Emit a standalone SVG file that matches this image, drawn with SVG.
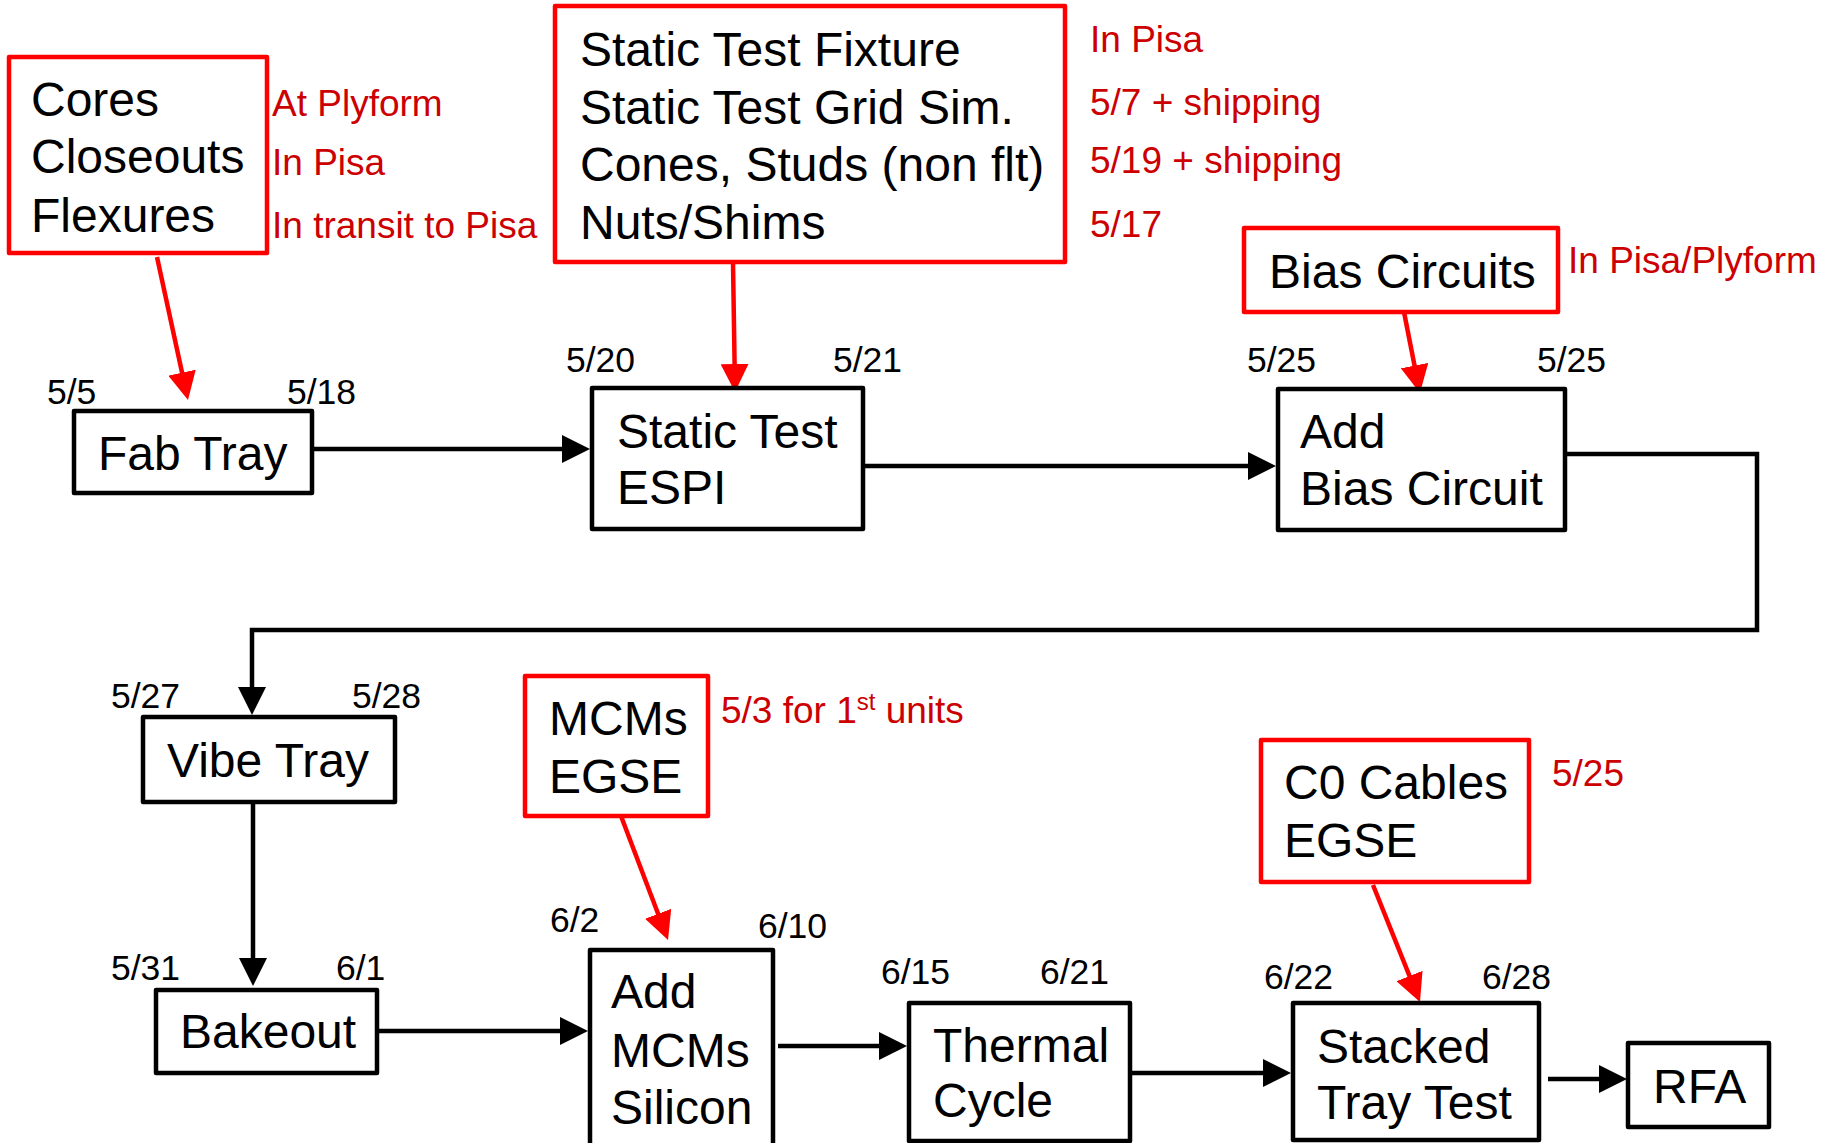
<svg xmlns="http://www.w3.org/2000/svg" width="1831" height="1143" viewBox="0 0 1831 1143">
<defs>
<style>
.bx{fill:#fff;stroke:#000;stroke-width:4.5;stroke-linejoin:round}
.rb{fill:#fff;stroke:#ff0000;stroke-width:4.5;stroke-linejoin:round}
.t{font-family:"Liberation Sans",Arial,sans-serif;font-size:48px;fill:#000}
.d{font-family:"Liberation Sans",Arial,sans-serif;font-size:35.5px;fill:#000}
.r{font-family:"Liberation Sans",Arial,sans-serif;font-size:37px;fill:#cc0000}
.k{fill:none;stroke:#000;stroke-width:4.5}
.kr{fill:none;stroke:#ff0000;stroke-width:4.5}
</style>
<marker id="ak" markerUnits="userSpaceOnUse" markerWidth="28" markerHeight="28" refX="20" refY="14" orient="auto"><path d="M0,0 L28,14 L0,28 z" fill="#000"/></marker>
<marker id="ar" markerUnits="userSpaceOnUse" markerWidth="28" markerHeight="28" refX="20" refY="14" orient="auto"><path d="M0,0 L28,14 L0,28 z" fill="#ff0000"/></marker>
</defs>
<rect width="1831" height="1143" fill="#fff"/>

<g id="connectors">
<line class="kr" x1="157" y1="257" x2="186.3" y2="392.2" marker-end="url(#ar)"/>
<line class="kr" x1="733" y1="262" x2="734.9" y2="384" marker-end="url(#ar)"/>
<line class="kr" x1="1404" y1="312" x2="1418.4" y2="385.2" marker-end="url(#ar)"/>
<line class="kr" x1="621" y1="816" x2="665.2" y2="932.5" marker-end="url(#ar)"/>
<line class="kr" x1="1373" y1="885" x2="1417" y2="994.6" marker-end="url(#ar)"/>
<line class="k" x1="312" y1="449" x2="582" y2="449" marker-end="url(#ak)"/>
<line class="k" x1="860" y1="466" x2="1268" y2="466" marker-end="url(#ak)"/>
<polyline class="k" points="1560,454 1757,454 1757,630 252,630 252,707" marker-end="url(#ak)"/>
<line class="k" x1="253" y1="802" x2="253" y2="978" marker-end="url(#ak)"/>
<line class="k" x1="377" y1="1031" x2="580" y2="1031" marker-end="url(#ak)"/>
<line class="k" x1="778" y1="1046" x2="899" y2="1046" marker-end="url(#ak)"/>
<line class="k" x1="1130" y1="1073" x2="1283" y2="1073" marker-end="url(#ak)"/>
<line class="k" x1="1548" y1="1079" x2="1619" y2="1079" marker-end="url(#ak)"/>
</g>

<g id="cores">
<rect class="rb" x="9" y="57" width="258" height="196"/>
<text class="t" x="31" y="116">Cores</text>
<text class="t" x="31" y="173">Closeouts</text>
<text class="t" x="31" y="232">Flexures</text>
<text class="r" x="272" y="116">At Plyform</text>
<text class="r" x="272" y="175">In Pisa</text>
<text class="r" x="272" y="238">In transit to Pisa</text>
</g>

<g id="fixture">
<rect class="rb" x="555" y="6" width="510" height="256"/>
<text class="t" x="580" y="66">Static Test Fixture</text>
<text class="t" x="580" y="124">Static Test Grid Sim.</text>
<text class="t" x="580" y="181">Cones, Studs (non flt)</text>
<text class="t" x="580" y="239">Nuts/Shims</text>
<text class="r" x="1090" y="52">In Pisa</text>
<text class="r" x="1090" y="115">5/7 + shipping</text>
<text class="r" x="1090" y="173">5/19 + shipping</text>
<text class="r" x="1090" y="237">5/17</text>
</g>

<g id="biascircuits">
<rect class="rb" x="1244" y="228" width="314" height="84"/>
<text class="t" x="1269" y="288">Bias Circuits</text>
<text class="r" x="1568" y="273">In Pisa/Plyform</text>
</g>

<g id="fabtray">
<rect class="bx" x="74" y="411" width="238" height="82"/>
<text class="t" x="98" y="470">Fab Tray</text>
<text class="d" x="47" y="404">5/5</text>
<text class="d" x="287" y="404">5/18</text>
</g>

<g id="statictest">
<rect class="bx" x="592" y="388" width="271" height="141"/>
<text class="t" x="617" y="448">Static Test</text>
<text class="t" x="617" y="504">ESPI</text>
<text class="d" x="566" y="372">5/20</text>
<text class="d" x="833" y="372">5/21</text>
</g>

<g id="addbias">
<rect class="bx" x="1278" y="389" width="287" height="141"/>
<text class="t" x="1300" y="448">Add</text>
<text class="t" x="1300" y="505">Bias Circuit</text>
<text class="d" x="1247" y="372">5/25</text>
<text class="d" x="1537" y="372">5/25</text>
</g>

<g id="vibetray">
<rect class="bx" x="143" y="717" width="252" height="85"/>
<text class="t" x="167" y="777">Vibe Tray</text>
<text class="d" x="111" y="708">5/27</text>
<text class="d" x="352" y="708">5/28</text>
</g>

<g id="bakeout">
<rect class="bx" x="156" y="990" width="221" height="83"/>
<text class="t" x="180" y="1048">Bakeout</text>
<text class="d" x="111" y="980">5/31</text>
<text class="d" x="336" y="980">6/1</text>
</g>

<g id="mcmsegse">
<rect class="rb" x="525" y="676" width="183" height="140"/>
<text class="t" x="549" y="735">MCMs</text>
<text class="t" x="549" y="793">EGSE</text>
<text class="r" x="721" y="723">5/3 for 1<tspan font-size="24" dy="-13">st</tspan><tspan dy="13"> units</tspan></text>
</g>

<g id="addmcms">
<rect class="bx" x="590" y="950" width="183" height="210"/>
<text class="t" x="611" y="1008">Add</text>
<text class="t" x="611" y="1067">MCMs</text>
<text class="t" x="611" y="1124">Silicon</text>
<text class="d" x="550" y="932">6/2</text>
<text class="d" x="758" y="938">6/10</text>
</g>

<g id="thermal">
<rect class="bx" x="909" y="1003" width="221" height="138"/>
<text class="t" x="933" y="1062">Thermal</text>
<text class="t" x="933" y="1117">Cycle</text>
<text class="d" x="881" y="984">6/15</text>
<text class="d" x="1040" y="984">6/21</text>
</g>

<g id="c0cables">
<rect class="rb" x="1261" y="740" width="268" height="142"/>
<text class="t" x="1284" y="799">C0 Cables</text>
<text class="t" x="1284" y="857">EGSE</text>
<text class="r" x="1552" y="786">5/25</text>
</g>

<g id="stacked">
<rect class="bx" x="1293" y="1003" width="246" height="137"/>
<text class="t" x="1317" y="1063">Stacked</text>
<text class="t" x="1317" y="1119">Tray Test</text>
<text class="d" x="1264" y="989">6/22</text>
<text class="d" x="1482" y="989">6/28</text>
</g>

<g id="rfa">
<rect class="bx" x="1628" y="1043" width="141" height="84"/>
<text class="t" x="1653" y="1103">RFA</text>
</g>
</svg>
